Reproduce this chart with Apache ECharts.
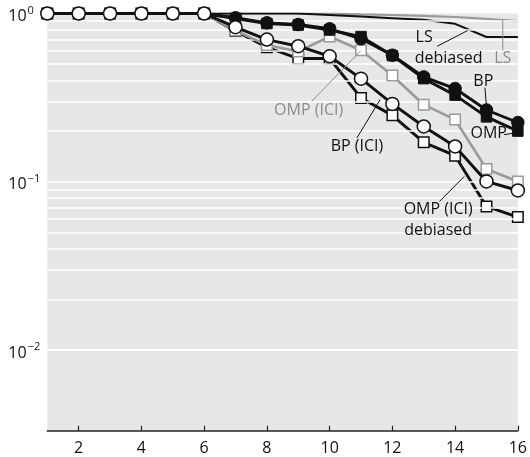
<!DOCTYPE html>
<html><head><meta charset="utf-8">
<script src="https://cdn.jsdelivr.net/npm/echarts@6/dist/echarts.min.js"></script>
<style>html,body{margin:0;padding:0;background:#fff}#c{width:530px;height:457px}</style>
</head><body><div id="c"></div>
<script>
// ---- data ----
const xs = [1,2,3,4,5,6,7,8,9,10,11,12,13,14,15,16];
const ls         = [1,1,1,1,1,1,1,1,1,1,0.989,0.980,0.969,0.953,0.930,0.900];
const lsDebiased = [1,1,1,1,1,1,1,1,1,0.980,0.960,0.938,0.917,0.868,0.725,0.725];
const bp         = [1,1,1,1,1,1,0.943,0.880,0.860,0.811,0.707,0.565,0.420,0.358,0.267,0.225];
const omp        = [1,1,1,1,1,1,0.934,0.872,0.854,0.798,0.729,0.562,0.410,0.327,0.243,0.200];
const bpIci      = [1,1,1,1,1,1,0.829,0.700,0.639,0.557,0.410,0.290,0.213,0.162,0.1004,0.0887];
const ompIci     = [1,1,1,1,1,1,0.792,0.649,0.594,0.730,0.605,0.428,0.287,0.234,0.119,0.1004];
const ompIciDeb  = [1,1,1,1,1,1,0.787,0.630,0.540,0.540,0.315,0.248,0.1714,0.1428,0.0713,0.0616];
const xTicks = [2,4,6,8,10,12,14,16];
const yTicks = [1,0.1,0.01];
const yMin = 0.003311, yMax = 1;
const gridValues = [0.004,0.005,0.006,0.007,0.008,0.009,
  0.01,0.02,0.03,0.04,0.05,0.06,0.07,0.08,0.09,
  0.1,0.2,0.3,0.4,0.5,0.6,0.7,0.8,0.9];

// annotation anchors in data space
const labels = [
  {t:'LS', x:12.74, y:0.72, align:'left', c:'#111'},
  {t:'debiased', x:12.71, y:0.54, align:'left', c:'#111'},
  {t:'LS', x:15.52, y:0.54, align:'center', c:'#8c8c8c'},
  {t:'BP', x:14.90, y:0.394, align:'center', c:'#111'},
  {t:'OMP', x:15.07, y:0.193, align:'center', c:'#111'},
  {t:'OMP (ICI)', x:9.33, y:0.265, align:'center', c:'#8c8c8c'},
  {t:'BP (ICI)', x:10.87, y:0.1616, align:'center', c:'#111'},
  {t:'OMP (ICI)', x:13.46, y:0.0681, align:'center', c:'#111'},
  {t:'debiased', x:13.46, y:0.0511, align:'center', c:'#111'}
];
const leaders = [
  {a:[13.43,0.639], b:[14.40,0.792], c:'#111'},
  {a:[15.52,0.921], b:[15.52,0.602], c:'#8c8c8c'},
  {a:[14.95,0.363], b:[15.0,0.281], c:'#111'},
  {a:[15.56,0.1905], b:[15.93,0.195], c:'#111'},
  {a:[9.43,0.301], b:[10.98,0.597], c:'#8c8c8c'},
  {a:[10.87,0.182], b:[11.61,0.308], c:'#111'},
  {a:[13.50,0.0763], b:[14.29,0.1075], c:'#111'}
];

const FONT = '"Open Sans", "Noto Sans", sans-serif';
const pair = arr => xs.map((x,i)=>[x, arr[i]]);
const chart = echarts.init(document.getElementById('c'));
const BLK = '#111', GRY = '#9a9a9a';

function lineSeries(name, arr, o){
  return Object.assign({
    name, type:'line', data: pair(arr), animation:false,
    lineStyle:{color:BLK, width:2.9}, itemStyle:{color:BLK},
    symbol:'none', showSymbol:true
  }, o);
}

const sup = s => s.replace('-', '\u2212');
chart.setOption({
  animation:false,
  textStyle:{fontFamily:FONT, fontSize:15},
  grid:{left:47.3, right:7.7, top:13.5, bottom:26.3, show:true, backgroundColor:'#e6e7e9', borderWidth:0},
  xAxis:{type:'value', min:1, max:16,
    axisLine:{lineStyle:{color:'#222', width:1.5}},
    axisTick:{inside:true, length:5, customValues:xTicks, lineStyle:{color:'#222', width:1.2}},
    axisLabel:{customValues:xTicks, fontSize:16, color:'#111', margin:10, fontFamily:FONT},
    splitLine:{show:false}},
  yAxis:{type:'log', logBase:10, min:yMin, max:yMax,
    axisLine:{show:false}, axisTick:{show:false}, splitLine:{show:false},
    axisLabel:{align:'left', margin:39, fontFamily:FONT,
      formatter:function(v){
        const e = Math.log10(v), r = Math.round(e);
        if (Math.abs(e-r) > 1e-6) return '';
        if (!yTicks.some(t => Math.abs(Math.log10(t)-r) < 1e-6)) return '';
        return '{b|10}{s|' + sup(String(r)) + '}';
      },
      rich:{b:{fontSize:16, color:'#111', fontFamily:FONT, padding:[6,0,0,0]},
            s:{fontSize:11, color:'#111', fontFamily:FONT, padding:[0,0,6,1]}}}},
  series:[
    {type:'line', data:[], silent:true, z:1, animation:false,
     markLine:{silent:true, animation:false, symbol:['none','none'], label:{show:false},
       lineStyle:{color:'#ffffff', width:1.5, type:'solid'},
       data: gridValues.map(v=>({yAxis:v}))}},
    lineSeries('LS', ls, {z:2, lineStyle:{color:GRY, width:2.2}}),
    lineSeries('LS debiased', lsDebiased, {z:3, lineStyle:{color:BLK, width:2}}),
    lineSeries('OMP (ICI) debiased', ompIciDeb, {z:4, symbol:'rect', symbolSize:10.5,
      itemStyle:{color:'#fff', borderColor:BLK, borderWidth:1.5}}),
    lineSeries('OMP (ICI)', ompIci, {z:5, symbol:'rect', symbolSize:10.5,
      lineStyle:{color:GRY, width:2.6}, itemStyle:{color:'#fff', borderColor:GRY, borderWidth:1.5}}),
    lineSeries('OMP', omp, {z:6, symbol:'rect', symbolSize:10.5,
      itemStyle:{color:BLK, borderColor:BLK, borderWidth:1}}),
    lineSeries('BP', bp, {z:7, symbol:'circle', symbolSize:12.5,
      itemStyle:{color:BLK, borderColor:BLK, borderWidth:1}}),
    lineSeries('BP (ICI)', bpIci, {z:8, symbol:'circle', symbolSize:13,
      itemStyle:{color:'#fff', borderColor:BLK, borderWidth:1.5}})
  ]
});

const P = p => chart.convertToPixel({gridIndex:0}, p);
const g = [];
leaders.forEach(l => {
  const a = P(l.a), b = P(l.b);
  g.push({type:'line', z:50, shape:{x1:a[0], y1:a[1], x2:b[0], y2:b[1]}, style:{stroke:l.c, lineWidth:1}});
});
labels.forEach(l => {
  const p = P([l.x, l.y]);
  g.push({type:'text', z:51, x:p[0], y:p[1], style:{text:l.t, fill:l.c, font:'16px ' + FONT,
    align:l.align, verticalAlign:'middle'}});
});
chart.setOption({graphic:g});
</script>
</body></html>
